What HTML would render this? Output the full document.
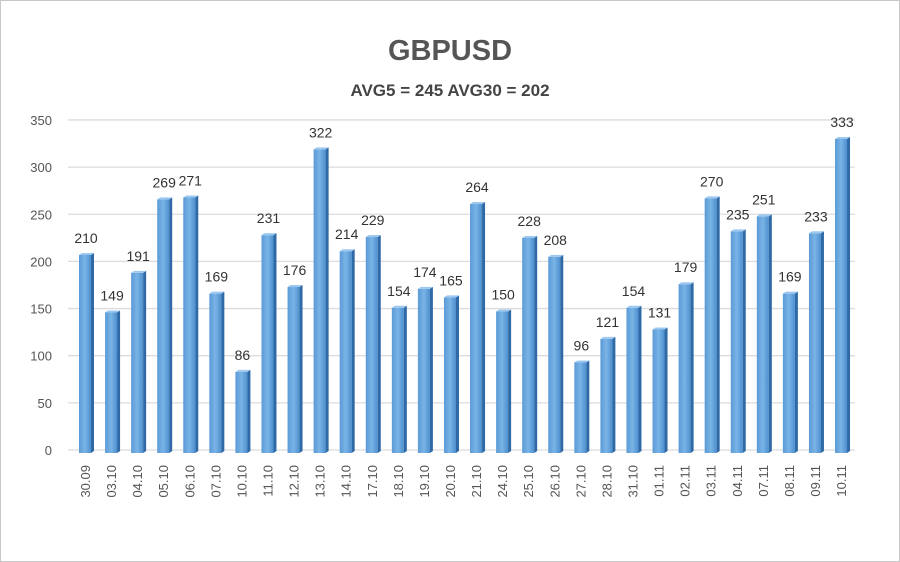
<!DOCTYPE html>
<html><head><meta charset="utf-8"><style>
body{margin:0;background:#fff}
svg{display:block;font-family:"Liberation Sans",sans-serif}
</style></head><body>
<svg width="900" height="562">
<defs>
<linearGradient id="bf" x1="0" x2="1"><stop offset="0" stop-color="#5a9ad6"/><stop offset="0.5" stop-color="#7ab4e6"/><stop offset="1" stop-color="#4d8fcf"/></linearGradient>
</defs>
<rect x="0.5" y="0.5" width="899" height="561" fill="#fff" stroke="#c8c8c8"/>
<text x="450" y="60" text-anchor="middle" font-size="29" font-weight="bold" fill="#555">GBPUSD</text>
<text x="450" y="96" text-anchor="middle" font-size="17" font-weight="bold" fill="#444">AVG5 = 245 AVG30 = 202</text>
<g id="grid"></g><g id="bars"></g><g id="labels"></g>
</svg>
<script>
const categories=["30.09","03.10","04.10","05.10","06.10","07.10","10.10","11.10","12.10","13.10","14.10","17.10","18.10","19.10","20.10","21.10","24.10","25.10","26.10","27.10","28.10","31.10","01.11","02.11","03.11","04.11","07.11","08.11","09.11","10.11"];
const values=[210,149,191,269,271,169,86,231,176,322,214,229,154,174,165,264,150,228,208,96,121,154,131,179,270,235,251,169,233,333];
const ticks=[0,50,100,150,200,250,300,350];
const NS="http://www.w3.org/2000/svg";
const y0=453,k=0.943,x0=85,dx=26.07,bw=12;
const y=v=>y0-v*k, x=i=>x0+i*dx;
function mk(t,a,p){const e=document.createElementNS(NS,t);for(const n in a)e.setAttribute(n,a[n]);p.appendChild(e);return e;}
const g=document.getElementById('grid'),b=document.getElementById('bars'),l=document.getElementById('labels');
ticks.forEach(t=>{
 const ln=mk('line',{x1:68,x2:855,y1:y(t)-3,y2:y(t)-3,stroke:'#dcdcdc','stroke-width':1.3},g);
 
 
 const tx=mk('text',{x:52,y:y(t)+2,'text-anchor':'end','font-size':13,fill:'#555'},g);
 tx.textContent=t;
 
 
});
values.forEach((v,i)=>{
 const cx=x(i),top=y(v);
 const grp=mk('g',{},b);
 
 
 mk('rect',{x:cx-bw/2,y:top,width:bw,height:y0-top,fill:'url(#bf)'},grp);
 mk('polygon',{points:`${cx+bw/2},${top} ${cx+bw/2+3},${top-2} ${cx+bw/2+3},${y0-2} ${cx+bw/2},${y0}`,fill:'#2f6aa6'},grp);
 mk('polygon',{points:`${cx-bw/2},${top} ${cx-bw/2+3},${top-2} ${cx+bw/2+3},${top-2} ${cx+bw/2},${top}`,fill:'#9cc8f0'},grp);
 const vt=mk('text',{x:cx+1,y:top-12,'text-anchor':'middle','font-size':14,fill:'#333'},l);
 vt.textContent=v;
 
 
 const ct=mk('text',{x:0,y:0,'text-anchor':'end','font-size':13,fill:'#555',transform:`translate(${cx+5},${465}) rotate(-90)`},l);
 ct.textContent=categories[i];
 
 
});
</script>
</body></html>
